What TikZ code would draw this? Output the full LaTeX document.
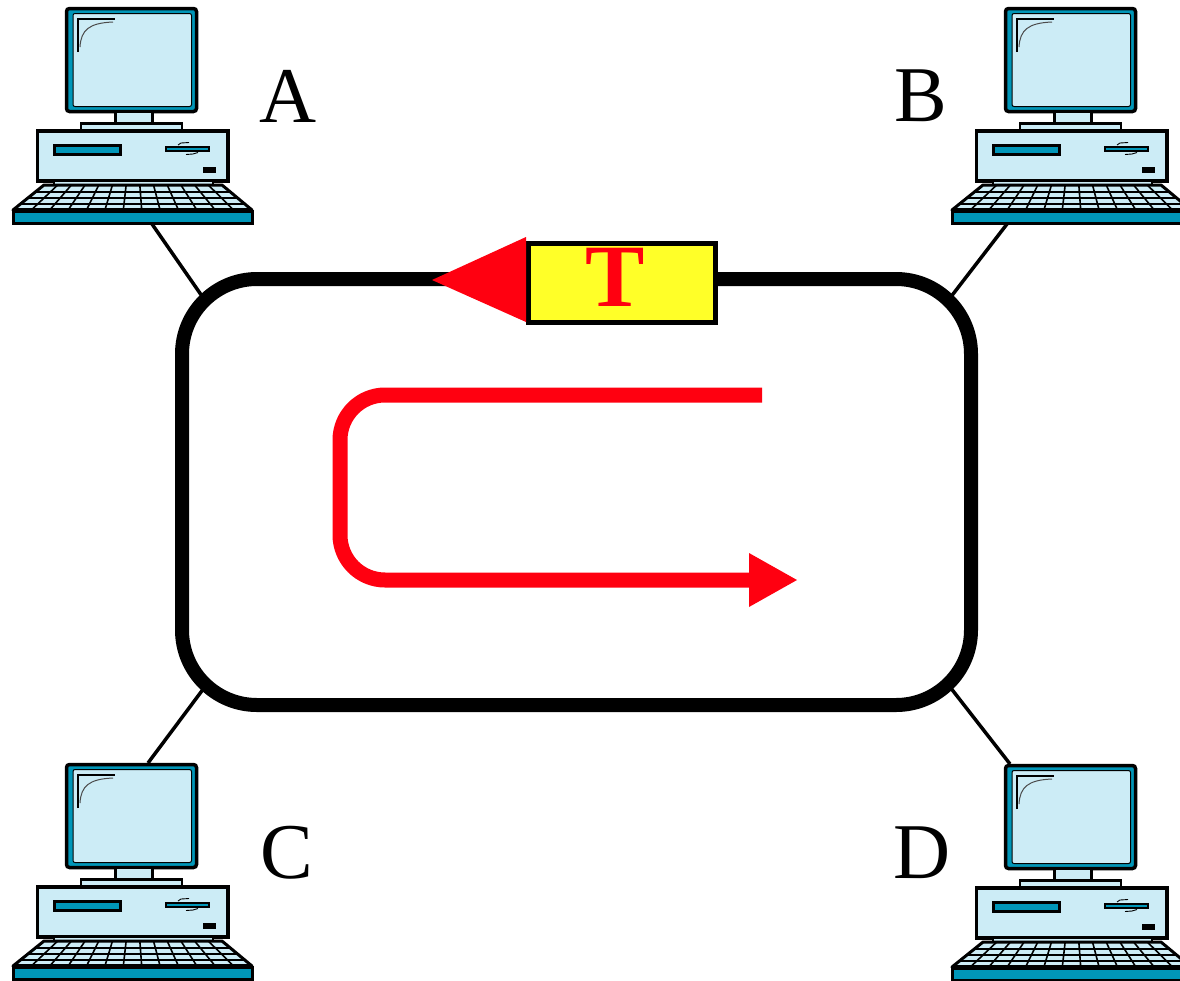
\documentclass[tikz,border=0pt]{standalone}
\usepackage{fontspec}
\setmainfont{Liberation Serif}
\definecolor{scr}{RGB}{204,236,246}
\definecolor{tealc}{RGB}{0,150,184}
\definecolor{tokred}{RGB}{255,0,16}
\definecolor{tokyel}{RGB}{255,255,40}
\tikzset{
  lbl/.style={font=\fontsize{79}{79}\selectfont, inner sep=0pt, text=black},
  ringbox/.style={draw=black, line width=14pt, rounded corners=75pt, minimum width=789pt, minimum height=426pt, inner sep=0pt},
  cable/.style={draw=black, line width=3.5pt},
  tokenbox/.style={draw=black, fill=tokyel, line width=5pt, minimum width=187pt, minimum height=79pt, inner sep=0pt},
  tokentext/.style={font=\fontsize{89}{89}\selectfont\bfseries, text=tokred, inner sep=0pt},
  computer/.pic={
    % monitor
    \filldraw[fill=tealc, draw=black, line width=3.5pt, rounded corners=3pt] (66.5,8.5) rectangle (196.5,111.5);
    \filldraw[fill=scr, draw=black, line width=1pt, rounded corners=2pt] (73,13.5) rectangle (191.5,106.5);
    \draw[line width=1.3pt] (78,52) -- (78,19) -- (115,19);
    \draw[line width=1pt, black!70] (80,47) .. controls (81,30) and (89,23) .. (113,22);
    % neck and base plate
    \filldraw[fill=scr, draw=black, line width=2.5pt] (115.5,112) rectangle (152.5,123);
    \filldraw[fill=scr, draw=black, line width=2.5pt] (81,123.5) rectangle (182,130);
    % case
    \filldraw[fill=scr, draw=black, line width=3.5pt] (37.5,131) rectangle (228,181);
    \filldraw[fill=tealc, draw=black, line width=3pt] (54.5,145) rectangle (120,154);
    \filldraw[fill=tealc, draw=black, line width=1.4pt] (166,147) rectangle (209,151);
    \draw[line width=0.9pt] (178,145) -- (181,143) -- (189,142.5);
    \draw[line width=0.9pt] (186,154.5) -- (193,154) -- (198,152.5);
    \fill[black] (203,167) rectangle (216,173);
    % keyboard
    \filldraw[fill=scr, draw=black, line width=1.5pt] (54,181.5) rectangle (213,185);
    \filldraw[fill=scr, draw=black, line width=3pt, line join=round] (44,185) -- (222,185) -- (252,210) -- (13,210) -- cycle;
    \foreach \t in {0.28,0.52,0.76,0.94}
      \draw[line width=1.8pt] ({44-31*\t},{185+25*\t}) -- ({222+30*\t},{185+25*\t});
    \foreach \i in {1,...,12}
      \draw[line width=1.6pt] ({44+178*\i/13},185) -- ({13+239*\i/13},210);
    \filldraw[fill=tealc, draw=black, line width=3pt] (13,211) rectangle (252,223.5);
    % cable ports
    \coordinate (-kbl) at (152,224);
    \coordinate (-kbr) at (68,224);
    \coordinate (-mtl) at (148,7);
    \coordinate (-mtr) at (71,7);
  }
}
\begin{document}
\begin{tikzpicture}[x=1pt, y=-1pt]
  \fill[white] (0,0) rectangle (1180,980);
  \useasboundingbox (0,0) rectangle (1180,980);

  % ring
  \node[ringbox] (ring) at (576.5,492) {};
  \coordinate (ringA) at (204,299);
  \coordinate (ringB) at (950,298);
  \coordinate (ringC) at (204,688);
  \coordinate (ringD) at (950,687);

  % computers
  \pic (pcA) at (0,0) {computer};
  \pic (pcB) at (939,0) {computer};
  \pic (pcC) at (0,756) {computer};
  \pic (pcD) at (939,757) {computer};

  % cables
  \draw[cable] (pcA-kbl) -- (ringA);
  \draw[cable] (pcB-kbr) -- (ringB);
  \draw[cable] (pcC-mtl) -- (ringC);
  \draw[cable] (pcD-mtr) -- (ringD);

  % token
  \node[tokenbox] (token) at (622,283) {};
  \coordinate (tokTip) at (432,280);
  \fill[tokred] (tokTip) -- (526,237) -- (526,322) -- cycle;
  \node[tokentext] (tokenT) at (615,277) {T};

  % circulation arrow
  \coordinate (circStart) at (762,395);
  \coordinate (circEnd) at (751,580);
  \draw[tokred, line width=15pt, rounded corners=45pt] (circStart) -- (340,395) -- (340,580) -- (circEnd);
  \fill[tokred] (749,553) -- (797,580) -- (749,607) -- cycle;

  % labels
  \node[lbl] (labA) at (288,96) {A};
  \node[lbl] (labB) at (921,96) {B};
  \node[lbl] (labC) at (287,853) {C};
  \node[lbl] (labD) at (922,853) {D};
\end{tikzpicture}
\end{document}
